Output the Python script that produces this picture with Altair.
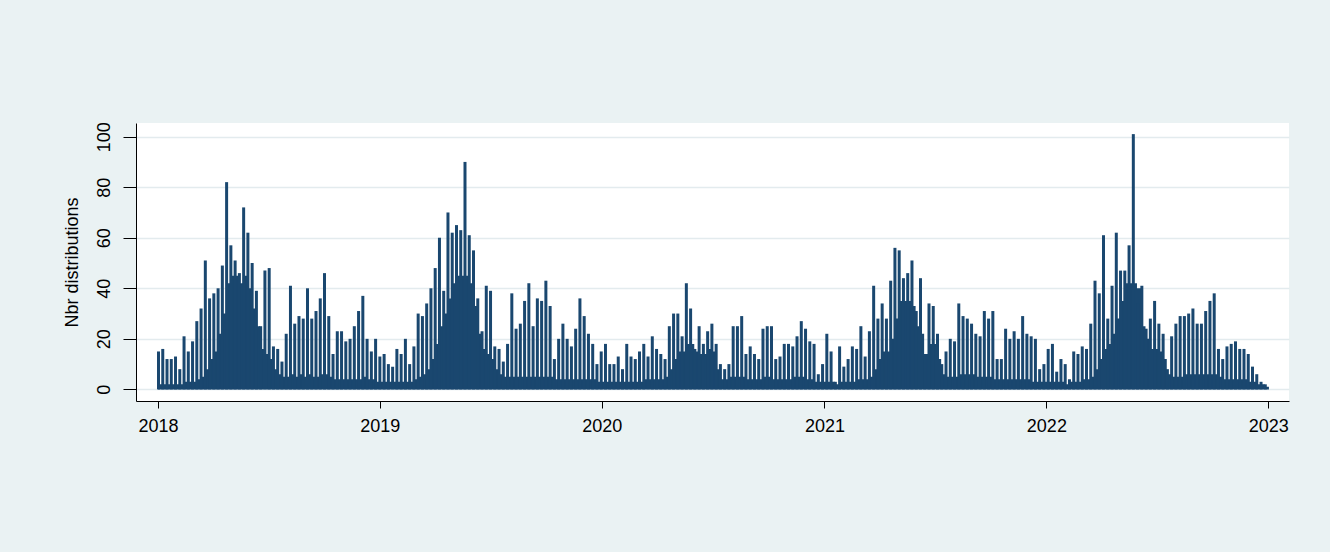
import altair as alt
import pandas as pd

# Weekly peak number of distributions (one value per week, weeks start on Mondays)
peaks_2018 = [15, 16, 12, 12, 13, 8, 21, 15, 19, 27, 32, 51, 36, 38, 40, 49, 82, 57, 51, 46,
              72, 62, 50, 39, 25, 47, 48, 17, 16, 11, 22, 41, 26, 29, 28, 40, 28, 31, 36, 46,
              29, 14, 23, 23, 19, 20, 25, 31, 37, 20, 15, 20]
peaks_2019 = [13, 14, 10, 9, 16, 14, 20, 10, 17, 30, 29, 34, 40, 48, 60, 39, 70, 62, 65, 63,
              90, 61, 55, 36, 23, 41, 39, 17, 16, 11, 18, 38, 24, 26, 35, 42, 25, 36, 35, 43,
              33, 12, 20, 26, 20, 17, 24, 36, 29, 22, 18, 10]
peaks_2020 = [15, 18, 10, 10, 13, 8, 18, 13, 12, 15, 18, 13, 21, 16, 14, 12, 25, 30, 30, 21,
              42, 32, 16, 25, 18, 23, 26, 18, 10, 8, 10, 25, 25, 29, 14, 17, 14, 12, 24, 25,
              25, 12, 13, 18, 18, 17, 21, 27, 24, 19, 18, 6]
peaks_2021 = [10, 22, 15, 3, 17, 9, 12, 17, 16, 25, 13, 23, 41, 28, 34, 28, 43, 56, 55, 44,
              46, 51, 31, 44, 14, 34, 33, 22, 10, 15, 20, 19, 34, 29, 28, 26, 22, 21, 31, 28,
              31, 12, 12, 24, 20, 23, 20, 29, 22, 21, 20, 8]
peaks_2022 = [10, 16, 18, 7, 12, 10, 4, 15, 14, 17, 16, 26, 43, 38, 61, 28, 41, 62, 47, 47,
              57, 101, 34, 41, 24, 28, 35, 26, 22, 8, 21, 26, 29, 29, 30, 32, 26, 26, 31, 35,
              38, 16, 12, 17, 18, 19, 16, 16, 14, 9, 6, 3, 2]

# Level reached on the remaining days of each week
bases_2018 = [2, 2, 2, 2, 2, 2, 3, 3, 3, 4, 5, 8, 12, 15, 22, 30, 42, 45, 45, 42,
              45, 40, 32, 25, 16, 14, 12, 8, 6, 5, 5, 6, 5, 6, 5, 6, 5, 5, 6, 6,
              5, 4, 4, 4, 4, 4, 4, 4, 5, 4, 4, 3]
bases_2019 = [3, 3, 3, 3, 3, 3, 3, 3, 4, 5, 6, 8, 12, 18, 25, 30, 36, 42, 45, 45,
              45, 42, 33, 22, 16, 14, 12, 8, 6, 5, 5, 5, 5, 5, 5, 5, 5, 5, 5, 5,
              5, 4, 4, 4, 4, 4, 4, 4, 4, 4, 4, 3]
bases_2020 = [3, 3, 3, 3, 3, 3, 3, 3, 3, 3, 4, 4, 4, 4, 4, 5, 8, 12, 15, 15,
              18, 18, 15, 14, 14, 16, 15, 8, 4, 4, 5, 5, 5, 5, 4, 4, 4, 4, 5, 5,
              4, 4, 4, 4, 4, 5, 5, 5, 4, 4, 3, 3]
bases_2021 = [3, 3, 3, 2, 3, 3, 3, 3, 4, 4, 4, 5, 8, 12, 15, 15, 20, 28, 35, 35,
              35, 33, 25, 22, 14, 18, 18, 12, 6, 5, 5, 5, 6, 6, 6, 6, 5, 5, 5, 5,
              4, 4, 4, 4, 4, 4, 4, 4, 4, 3, 3, 3]
bases_2022 = [3, 3, 3, 3, 3, 2, 3, 3, 3, 4, 4, 5, 8, 12, 16, 18, 22, 28, 35, 42,
              42, 42, 40, 25, 20, 16, 16, 15, 12, 6, 5, 5, 5, 6, 6, 6, 6, 6, 6, 6,
              6, 5, 4, 4, 4, 4, 4, 4, 3, 3, 2, 2, 1]

year_ticks = [2018, 2019, 2020, 2021, 2022, 2023]
y_ticks = [0, 20, 40, 60, 80, 100]

NAVY = "#1a476f"
FONT = "Liberation Sans"

peaks = peaks_2018 + peaks_2019 + peaks_2020 + peaks_2021 + peaks_2022
bases = bases_2018 + bases_2019 + bases_2020 + bases_2021 + bases_2022

week_start = pd.date_range("2018-01-01", periods=len(peaks), freq="7D")

# Peak day of each week (Tuesday)
spike_df = pd.DataFrame({
    "day": (week_start + pd.Timedelta(days=1)).strftime("%Y-%m-%d"),
    "n": peaks,
})

# Step outline of the everyday level, closed at the end of the last week
step_days = list(week_start) + [week_start[-1] + pd.Timedelta(days=7)]
base_df = pd.DataFrame({
    "day": [d.strftime("%Y-%m-%d") for d in step_days],
    "n": bases + [bases[-1]],
})

# padding=0: no extra inset of the time axis for the bar layer
x_scale = alt.Scale(
    type="utc",
    nice=False,
    padding=0,
    domain=[alt.DateTime(year=2017, month=11, date=26, utc=True),
            alt.DateTime(year=2023, month=2, date=4, utc=True)],
)
y_scale = alt.Scale(domain=[-4.6, 105.4], nice=False, zero=False)

x_axis = alt.Axis(
    values=[alt.DateTime(year=y, month=1, date=1, utc=True) for y in year_ticks],
    format="%Y", formatType="utc",
    grid=False, tickSize=7, tickColor="black", domainColor="black",
    labelFont=FONT, labelFontSize=18, labelColor="black",
    labelBaseline="alphabetic", labelPadding=23, labelOverlap=False,
)
y_axis = alt.Axis(
    values=y_ticks, title="Nbr distributions",
    grid=True, gridColor="#e3ebee", gridWidth=1.5,
    tickSize=13, tickColor="black", domainColor="black",
    labelFont=FONT, labelFontSize=18, labelColor="black",
    labelAngle=270, labelAlign="center", labelBaseline="alphabetic",
    labelPadding=14, labelOverlap=False,
    titleFont=FONT, titleFontSize=18, titleFontWeight="normal", titleColor="black",
    titleAngle=270, titleAlign="center", titleBaseline="alphabetic",
    titleX=-59, titleY=139,
)

base_layer = alt.Chart(base_df).mark_area(
    interpolate="step-after", color=NAVY
).encode(
    x=alt.X("day:T", scale=x_scale, axis=x_axis, title=None),
    y=alt.Y("n:Q", scale=y_scale, axis=y_axis),
)

spike_layer = alt.Chart(spike_df).mark_bar(size=3, color=NAVY).encode(
    x=alt.X("day:T", scale=x_scale),
    y=alt.Y("n:Q", scale=y_scale),
)

chart = alt.layer(base_layer, spike_layer).properties(
    width=1153,
    height=278,
    background="#eaf2f3",
    padding={"left": 136, "top": 123, "right": 41, "bottom": 151},
    autosize=alt.AutoSizeParams(type="none"),
).configure_view(fill="white", strokeWidth=0)

chart.save("out.html", embed_options={"renderer": "svg", "actions": False})
